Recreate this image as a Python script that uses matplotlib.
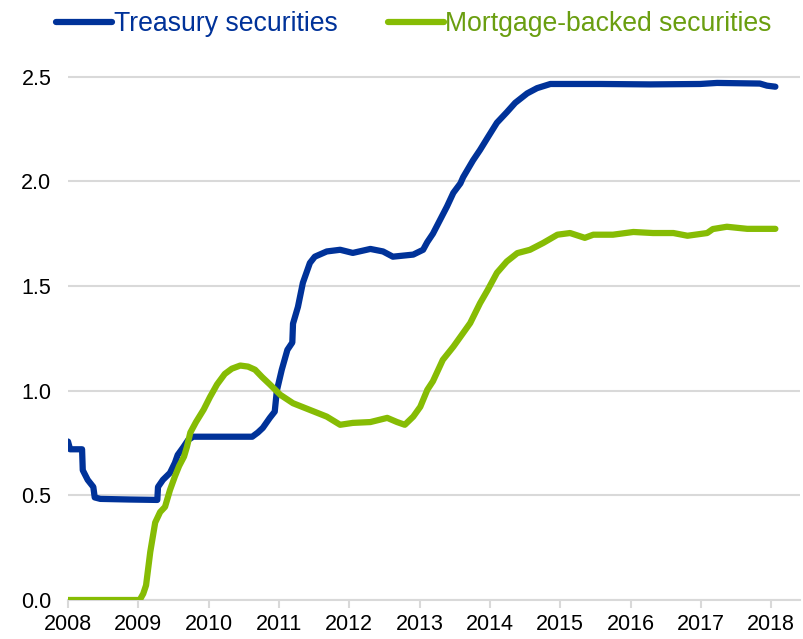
import numpy as np
import matplotlib.pyplot as plt

# values (year, level)
treasury_year = [2008.00, 2008.03, 2008.20, 2008.21, 2008.28, 2008.36, 2008.38, 2008.46, 2008.88,
                 2009.27, 2009.28, 2009.35, 2009.45, 2009.52, 2009.56, 2009.64, 2009.71, 2009.78,
                 2010.62, 2010.70, 2010.77, 2010.87, 2010.94, 2010.97, 2011.04, 2011.12, 2011.19,
                 2011.20, 2011.27, 2011.34, 2011.44, 2011.51, 2011.68, 2011.87, 2012.05, 2012.30,
                 2012.48, 2012.62, 2012.91, 2013.05, 2013.11, 2013.19, 2013.29, 2013.39, 2013.48,
                 2013.58, 2013.62, 2013.76, 2013.86, 2013.97, 2014.10, 2014.24, 2014.36, 2014.53,
                 2014.67, 2014.86, 2015.57, 2016.28, 2016.99, 2017.23, 2017.84, 2017.94, 2018.06]
treasury = [0.757, 0.72, 0.72, 0.62, 0.574, 0.54, 0.49, 0.483, 0.48,
            0.478, 0.54, 0.574, 0.607, 0.655, 0.693, 0.73, 0.765, 0.78,
            0.78, 0.80, 0.822, 0.87, 0.90, 1.0, 1.10, 1.195, 1.23,
            1.32, 1.40, 1.515, 1.61, 1.64, 1.665, 1.673, 1.658, 1.677,
            1.665, 1.64, 1.65, 1.673, 1.71, 1.75, 1.815, 1.88, 1.945,
            1.99, 2.02, 2.10, 2.15, 2.21, 2.28, 2.33, 2.375, 2.42,
            2.445, 2.465, 2.465, 2.463, 2.465, 2.47, 2.467, 2.457, 2.452]

mbs_year = [2008.00, 2009.02, 2009.07, 2009.11, 2009.17, 2009.24, 2009.31, 2009.38, 2009.45,
            2009.52, 2009.58, 2009.65, 2009.69, 2009.74, 2009.82, 2009.93, 2010.02, 2010.12,
            2010.23, 2010.33, 2010.45, 2010.56, 2010.66, 2010.76, 2010.87, 2011.02, 2011.20,
            2011.44, 2011.68, 2011.87, 2012.05, 2012.30, 2012.54, 2012.68, 2012.79, 2012.91,
            2013.01, 2013.11, 2013.19, 2013.33, 2013.48, 2013.58, 2013.72, 2013.86, 2013.97,
            2014.10, 2014.24, 2014.39, 2014.57, 2014.76, 2014.96, 2015.14, 2015.35, 2015.47,
            2015.75, 2016.04, 2016.32, 2016.61, 2016.81, 2017.09, 2017.17, 2017.37, 2017.66,
            2018.06]
mbs = [0.0, 0.0, 0.03, 0.07, 0.23, 0.37, 0.42, 0.445, 0.525,
       0.59, 0.64, 0.685, 0.73, 0.80, 0.85, 0.91, 0.97, 1.03,
       1.08, 1.105, 1.12, 1.115, 1.10, 1.065, 1.03, 0.98, 0.94,
       0.908, 0.876, 0.837, 0.846, 0.85, 0.87, 0.85, 0.837, 0.876,
       0.923, 1.004, 1.045, 1.147, 1.21, 1.257, 1.323, 1.418, 1.482,
       1.563, 1.617, 1.657, 1.673, 1.706, 1.745, 1.753, 1.73, 1.745,
       1.745, 1.758, 1.753, 1.753, 1.74, 1.753, 1.772, 1.783, 1.773,
       1.773]

years = list(range(2008, 2019))
yticks = [0.0, 0.5, 1.0, 1.5, 2.0, 2.5]

blue = '#003299'
green = '#86bc04'
green_text = '#6a9e10'
grid_col = '#d9d9d9'

plt.rcParams['font.family'] = ['Liberation Sans', 'DejaVu Sans']

fig = plt.figure(figsize=(8.04, 6.39), dpi=100)
ax = fig.add_axes([68 / 804, 39 / 639, 732 / 804, 538 / 639])

ax.plot(treasury_year, treasury, color=blue, lw=4.5, solid_capstyle='round',
        solid_joinstyle='round', label='Treasury securities', zorder=3)
ax.plot(mbs_year, mbs, color=green, lw=4.5, solid_capstyle='round',
        solid_joinstyle='round', label='Mortgage-backed securities', zorder=3)

ax.set_xlim(2008, 2018.41)
ax.set_ylim(0, 2.57)
ax.set_xticks(years)
ax.set_xticklabels([str(y) for y in years])
ax.set_yticks(yticks)
ax.set_yticklabels([f'{v:.1f}' for v in yticks])

ax.grid(axis='y', color=grid_col, lw=1.5, zorder=0)
for s in ['top', 'right', 'left']:
    ax.spines[s].set_visible(False)
ax.spines['bottom'].set_color(grid_col)
ax.spines['bottom'].set_linewidth(1.5)
ax.tick_params(axis='x', length=6, width=1.5, color=grid_col, labelsize=15.5, pad=4)
ax.tick_params(axis='y', length=0, labelsize=15.5, pad=12)

leg = ax.legend(loc='upper center', bbox_to_anchor=(414 / 804, 1.012), bbox_transform=fig.transFigure,
                ncol=2, frameon=False, fontsize=19.2, handlelength=2.1, handletextpad=0.05,
                columnspacing=1.9, borderpad=0.2)
for line in leg.get_lines():
    line.set_linewidth(4.5)
for txt, c in zip(leg.get_texts(), [blue, green_text]):
    txt.set_color(c)

fig.savefig('out.png', dpi=100)
